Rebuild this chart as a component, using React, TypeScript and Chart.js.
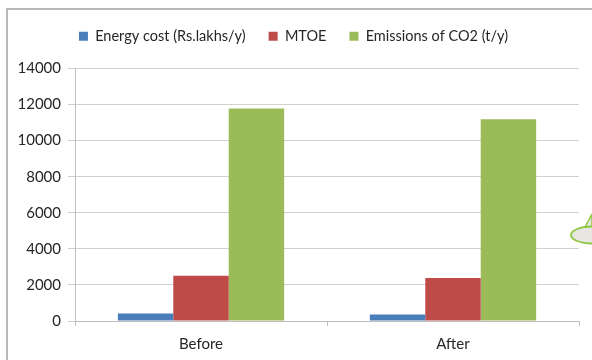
import React, { useEffect, useRef } from "react";
import { Chart, registerables } from "chart.js";

Chart.register(...registerables);

const categories = ["Before", "After"];
const energyCost = [410, 360];
const mtoe = [2510, 2380];
const emissions = [11780, 11180];
const seriesNames = ["Energy cost (Rs.lakhs/y)", "MTOE", "Emissions of CO2 (t/y)"];
const yTicks = [0, 2000, 4000, 6000, 8000, 10000, 12000, 14000];

const FONT = "Lato, sans-serif";

const legendGap = {
  id: "legendGap",
  beforeInit(chart: any) {
    const orig = chart.legend.fit;
    chart.legend.fit = function () {
      orig.bind(chart.legend)();
      this.height += 15;
    };
  },
};

export default function App() {
  const ref = useRef<HTMLCanvasElement | null>(null);

  useEffect(() => {
    document.body.style.margin = "0";
    const ctx = ref.current!;
    const chart = new Chart(ctx, {
      type: "bar",
      data: {
        labels: categories,
        datasets: [
          { label: seriesNames[0], data: energyCost, backgroundColor: "#4A7EBB" },
          { label: seriesNames[1], data: mtoe, backgroundColor: "#BE4B48" },
          { label: seriesNames[2], data: emissions, backgroundColor: "#9BBB59" },
        ],
      },
      options: {
        responsive: false,
        animation: false,
        layout: { padding: { left: 8, right: 13, top: 6, bottom: 0 } },
        datasets: { bar: { categoryPercentage: 0.66, barPercentage: 1 } },
        plugins: {
          tooltip: { enabled: false },
          legend: {
            position: "top",
            labels: {
              boxWidth: 9,
              boxHeight: 9,
              padding: 23,
              color: "#262626",
              font: { family: FONT, size: 14.5 },
            },
          },
        },
        scales: {
          x: {
            grid: {
              offset: true,
              drawOnChartArea: false,
              drawTicks: true,
              tickLength: 5,
              color: "#bfbfbf",
            },
            border: { color: "#bfbfbf", width: 1 },
            ticks: { color: "#262626", font: { family: FONT, size: 15 }, padding: 9 },
            afterFit: (s: any) => { s.height = 39; },
          },
          y: {
            min: 0,
            max: 14000,
            afterBuildTicks: (s: any) => { s.ticks = yTicks.map((v) => ({ value: v })); },
            grid: { color: "#d0d0d0", tickLength: 7, drawTicks: true },
            border: { color: "#bfbfbf", width: 1 },
            ticks: {
              color: "#262626",
              font: { family: FONT, size: 15 },
              padding: 7,
              callback: (v: any) => String(v),
            },
            afterFit: (s: any) => { s.width = 67; },
          },
        },
      },
      plugins: [legendGap],
    });
    return () => chart.destroy();
  }, []);

  return (
    <div style={{ position: "fixed", left: 0, top: 0, width: 592, height: 360, background: "#fff", overflow: "hidden" }}>
      <div style={{ position: "absolute", left: 6, top: 8, width: 700, height: 500, border: "2px solid #b8b8b8" }} />
      <canvas ref={ref} width={592} height={360} style={{ position: "absolute", left: 0, top: 0 }} />
      <svg width={592} height={360} style={{ position: "absolute", left: 0, top: 0 }}>
        <polygon points="584,229 592,214 592,232" fill="#e8e6e1" stroke="#8dc63f" strokeWidth={1.5} />
        <ellipse cx={592} cy={235} rx={21} ry={8.5} fill="#e8e6e1" stroke="#8dc63f" strokeWidth={1.8} />
      </svg>
    </div>
  );
}
